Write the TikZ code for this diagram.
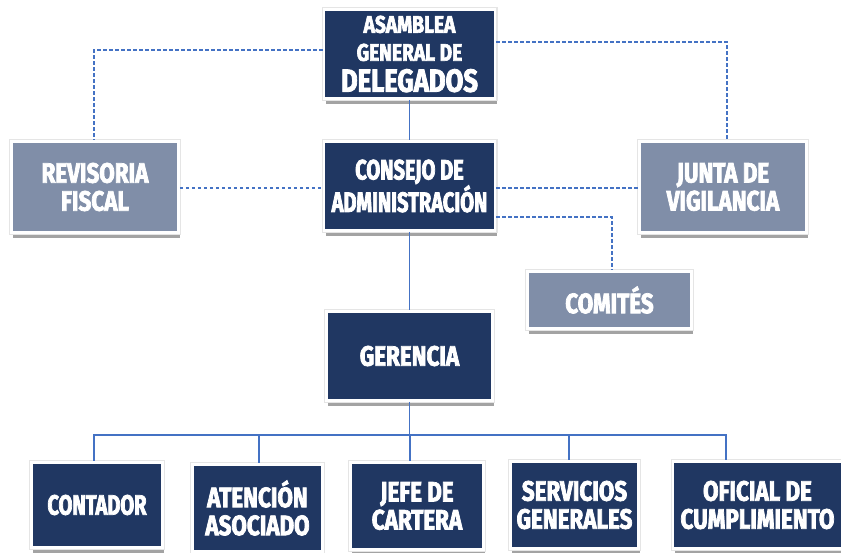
\documentclass[tikz,border=0pt]{standalone}
\usepackage{fontspec}
\setmainfont{Fira Sans}[FakeStretch=0.80, BoldFeatures={FakeBold=2.6}]
\newfontfamily\narrowfira{Fira Sans}[FakeStretch=0.715, BoldFeatures={FakeBold=2.6}]
\usetikzlibrary{shadows}
\definecolor{navy}{RGB}{32,55,98}
\definecolor{slate}{RGB}{128,142,168}
\definecolor{linkblue}{RGB}{68,114,196}
\tikzset{
  boxbase/.style={rectangle, draw=white, line width=2.5pt, text=white,
    align=center, inner sep=2pt,
    font=\bfseries\fontsize{28}{28}\selectfont,
    drop shadow={shadow xshift=1.5pt, shadow yshift=-5pt, opacity=0.45, fill=black!80},
    preaction={draw=black!10, line width=5pt}},
  darkbox/.style={boxbase, fill=navy},
  greybox/.style={boxbase, fill=slate},
  solidlink/.style={draw=linkblue, line width=1.1pt},
  dashlink/.style={draw=linkblue, line width=1.1pt, dash pattern=on 3.5pt off 2.5pt}
}
\begin{document}
\begin{tikzpicture}[x=1pt,y=-1pt]
\useasboundingbox (0,0) rectangle (841,552);

\node[darkbox, minimum width=171pt, minimum height=89pt] (asam) at (409.5,54)
  {\fontsize{24}{23}\selectfont ASAMBLEA\\
   \fontsize{24}{23}\selectfont GENERAL DE\\[3pt]
   \fontsize{32}{30}\selectfont DELEGADOS};
\node[greybox, minimum width=167pt, minimum height=91pt] (rev) at (95,187) {REVISORIA\\FISCAL};
\node[darkbox, minimum width=171pt, minimum height=89pt, font=\narrowfira\bfseries\fontsize{28}{28}\selectfont] (cons) at (409.5,186) {CONSEJO DE\\ADMINISTRACIÓN};
\node[greybox, minimum width=167pt, minimum height=91pt] (junta) at (723,187) {JUNTA DE\\VIGILANCIA};
\node[greybox, minimum width=164pt, minimum height=57pt] (com) at (609.5,300) {COMITÉS};
\node[darkbox, minimum width=166pt, minimum height=89pt] (ger) at (409.5,356) {GERENCIA};

\node[darkbox, minimum width=131pt, minimum height=85pt, font=\narrowfira\bfseries\fontsize{28}{28}\selectfont] (cont) at (97,505) {CONTADOR};
\node[darkbox, minimum width=130pt, minimum height=87pt] (aten) at (257.5,508) {ATENCIÓN\\ASOCIADO};
\node[darkbox, minimum width=133pt, minimum height=87pt] (jefe) at (417,506) {JEFE DE\\CARTERA};
\node[darkbox, minimum width=128pt, minimum height=87pt] (serv) at (574.5,505) {SERVICIOS\\GENERALES};
\node[darkbox, minimum width=169pt, minimum height=87pt] (ofic) at (757.5,505) {OFICIAL DE\\CUMPLIMIENTO};

\coordinate (bus) at (409.5,435);

% solid connectors
\draw[solidlink] (asam.south) -- (cons.north);
\draw[solidlink] (cons.south) -- (ger.north);
\draw[solidlink] (ger.south) -- (bus);
\draw[solidlink] (bus) -| ([xshift=-3pt]cont.north);
\draw[solidlink] (bus) -| ([xshift=1.5pt]aten.north);
\draw[solidlink] (bus) -| ([xshift=-7pt]jefe.north);
\draw[solidlink] (bus) -| ([xshift=-5.5pt]serv.north);
\draw[solidlink] (bus) -| ([xshift=-31.5pt]ofic.north);

% dashed connectors
\draw[dashlink] ([yshift=4pt]asam.west) -| ([xshift=-1pt]rev.north);
\draw[dashlink] ([yshift=12pt]asam.east) -| ([xshift=4pt]junta.north);
\draw[dashlink] ([yshift=-1pt]rev.east) -- ([yshift=-1pt]rev.east -| cons.west);
\draw[dashlink] ([yshift=-2pt]cons.east) -- ([yshift=-2pt]cons.east -| junta.west);
\draw[dashlink] ([yshift=-31pt]cons.east) -| ([xshift=2.5pt]com.north);
\end{tikzpicture}
\end{document}
